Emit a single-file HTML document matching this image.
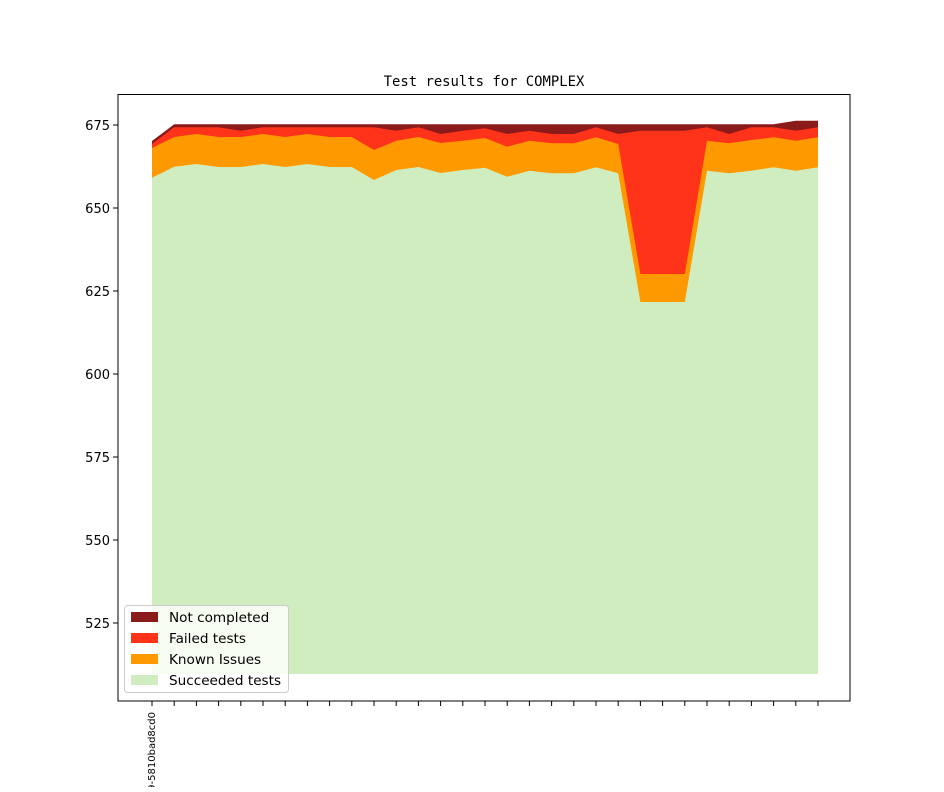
<!DOCTYPE html>
<html><head><style>body{margin:0;background:#fff}</style></head><body>
<svg width="944" height="787" xmlns="http://www.w3.org/2000/svg" font-family="DejaVu Sans, Liberation Sans, sans-serif">
<rect width="944" height="787" fill="#fff"/>
<text x="484" y="86" text-anchor="middle" font-family="DejaVu Sans Mono, Liberation Mono, monospace" font-size="13.9">Test results for COMPLEX</text>
<polygon fill="#8b1a1a" points="152,141 174.2,124.3 196.4,124.3 218.6,124.3 240.8,124.3 263,124.3 285.2,124.3 307.4,124.3 329.6,124.3 351.8,124.3 374,124.3 396.2,124.3 418.4,124.3 440.6,124.3 462.8,124.3 485,124.3 507.2,124.3 529.4,124.3 551.6,124.3 573.8,124.3 596,124.3 618.2,124.3 640.4,124.3 662.6,124.3 684.8,124.3 707,124.3 729.2,124.3 751.4,124.3 773.6,124.3 795.8,120.7 818,120.7 818,674 152,674"/>
<polygon fill="#ff321a" points="152,144 174.2,127.3 196.4,127.3 218.6,127.3 240.8,130.7 263,127.3 285.2,127.3 307.4,127.3 329.6,127.3 351.8,127.3 374,127.3 396.2,130.7 418.4,127.3 440.6,134 462.8,130.7 485,128.3 507.2,134 529.4,130.7 551.6,134 573.8,134 596,127.3 618.2,134 640.4,130.7 662.6,130.7 684.8,130.7 707,127.3 729.2,134 751.4,127.3 773.6,127.3 795.8,130.7 818,127.3 818,674 152,674"/>
<polygon fill="#ff9900" points="152,148 174.2,137 196.4,134 218.6,137 240.8,137 263,134 285.2,137 307.4,134 329.6,137 351.8,137 374,150 396.2,140.7 418.4,137 440.6,143 462.8,140.7 485,138 507.2,146.7 529.4,140.7 551.6,143.3 573.8,143.3 596,137.3 618.2,144 640.4,274 662.6,274 684.8,274 707,140.7 729.2,143.3 751.4,140 773.6,137.3 795.8,140.7 818,137.3 818,674 152,674"/>
<polygon fill="#cfedbf" points="152,177.7 174.2,166.7 196.4,164 218.6,167 240.8,167 263,164 285.2,167 307.4,164 329.6,167 351.8,167 374,180 396.2,170 418.4,167 440.6,173 462.8,170 485,167.7 507.2,176.7 529.4,170.7 551.6,173.3 573.8,173.3 596,167.3 618.2,173.3 640.4,302 662.6,302 684.8,302 707,170.7 729.2,173.3 751.4,170.7 773.6,167.3 795.8,170.7 818,167.3 818,674 152,674"/>
<rect x="118" y="94.5" width="732" height="606.5" fill="none" stroke="#000" stroke-width="1"/>
<g font-size="13" text-anchor="end">
<g stroke="#000"><line x1="113" x2="118" y1="125" y2="125"/><line x1="113" x2="118" y1="208" y2="208"/><line x1="113" x2="118" y1="291" y2="291"/><line x1="113" x2="118" y1="374" y2="374"/><line x1="113" x2="118" y1="457" y2="457"/><line x1="113" x2="118" y1="540" y2="540"/><line x1="113" x2="118" y1="623" y2="623"/></g>
<text x="110" y="130">675</text><text x="110" y="213">650</text><text x="110" y="296">625</text><text x="110" y="379">600</text><text x="110" y="462">575</text><text x="110" y="545">550</text><text x="110" y="628">525</text>
</g>
<g stroke="#000">
<line x1="152" x2="152" y1="701" y2="706"/><line x1="174.2" x2="174.2" y1="701" y2="706"/><line x1="196.4" x2="196.4" y1="701" y2="706"/><line x1="218.6" x2="218.6" y1="701" y2="706"/><line x1="240.8" x2="240.8" y1="701" y2="706"/><line x1="263" x2="263" y1="701" y2="706"/><line x1="285.2" x2="285.2" y1="701" y2="706"/><line x1="307.4" x2="307.4" y1="701" y2="706"/><line x1="329.6" x2="329.6" y1="701" y2="706"/><line x1="351.8" x2="351.8" y1="701" y2="706"/><line x1="374" x2="374" y1="701" y2="706"/><line x1="396.2" x2="396.2" y1="701" y2="706"/><line x1="418.4" x2="418.4" y1="701" y2="706"/><line x1="440.6" x2="440.6" y1="701" y2="706"/><line x1="462.8" x2="462.8" y1="701" y2="706"/><line x1="485" x2="485" y1="701" y2="706"/><line x1="507.2" x2="507.2" y1="701" y2="706"/><line x1="529.4" x2="529.4" y1="701" y2="706"/><line x1="551.6" x2="551.6" y1="701" y2="706"/><line x1="573.8" x2="573.8" y1="701" y2="706"/><line x1="596" x2="596" y1="701" y2="706"/><line x1="618.2" x2="618.2" y1="701" y2="706"/><line x1="640.4" x2="640.4" y1="701" y2="706"/><line x1="662.6" x2="662.6" y1="701" y2="706"/><line x1="684.8" x2="684.8" y1="701" y2="706"/><line x1="707" x2="707" y1="701" y2="706"/><line x1="729.2" x2="729.2" y1="701" y2="706"/><line x1="751.4" x2="751.4" y1="701" y2="706"/><line x1="773.6" x2="773.6" y1="701" y2="706"/><line x1="795.8" x2="795.8" y1="701" y2="706"/><line x1="818" x2="818" y1="701" y2="706"/>
</g>
<text transform="translate(155,712) rotate(-90)" font-size="10" text-anchor="end">9-5810bad8cd0</text>
<rect x="124.5" y="605.5" width="164" height="87" rx="3" fill="#fff" fill-opacity="0.8" stroke="#ccc"/>
<g font-size="13.6">
<rect x="131" y="612" width="27" height="10" fill="#8b1a1a"/><text x="169" y="622">Not completed</text>
<rect x="131" y="633" width="27" height="10" fill="#ff321a"/><text x="169" y="643">Failed tests</text>
<rect x="131" y="654" width="27" height="10" fill="#ff9900"/><text x="169" y="664">Known Issues</text>
<rect x="131" y="675" width="27" height="10" fill="#cfedbf"/><text x="169" y="685">Succeeded tests</text>
</g>
</svg>
</body></html>
